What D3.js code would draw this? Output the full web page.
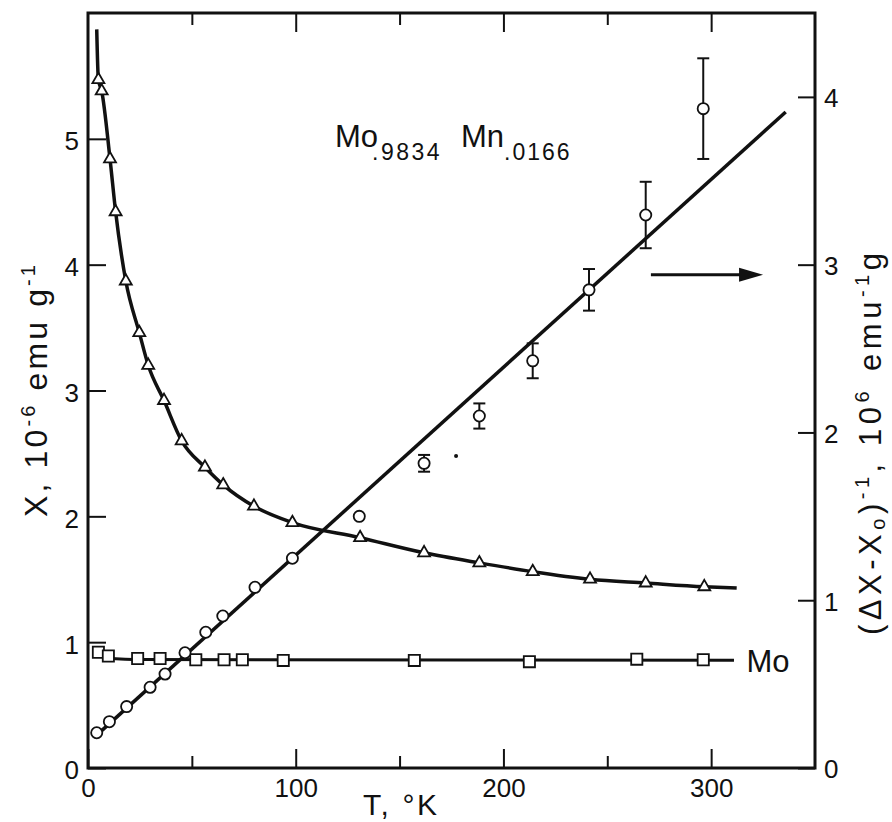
<!DOCTYPE html>
<html>
<head>
<meta charset="utf-8">
<script src="https://cdn.jsdelivr.net/npm/d3@7"></script>
<style>
  body { margin: 0; background: #fff; }
  svg { display: block; font-family: "Liberation Sans", Arial, sans-serif; }
  .axis text { font-size: 26px; fill: #111; font-family: "Liberation Sans", Arial, sans-serif; }
  .axis line { stroke: #111; stroke-width: 2; }
</style>
</head>
<body>
<div id="chart"></div>
<script>
// Mo.9834 Mn.0166 : susceptibility (triangles, left axis)
const triT   = [5.0, 6.6, 10.6, 13.3, 18.2, 24.7, 29.0, 36.6, 45.1, 56.3, 65.1, 79.9, 98.4, 131.0, 161.8, 188.4, 214.1, 241.7, 268.5, 296.7];
const triChi = [5.47, 5.38, 4.84, 4.42, 3.87, 3.46, 3.20, 2.92, 2.60, 2.39, 2.25, 2.08, 1.95, 1.83, 1.71, 1.63, 1.56, 1.50, 1.47, 1.44];

// fitted curve through the triangles
const fitT   = [4.2, 5.0, 6.6, 10.6, 13.3, 18.2, 24.7, 29.0, 36.6, 45.1, 56.3, 65.1, 79.9, 98.4, 131.0, 161.8, 188.4, 214.1, 241.7, 268.5, 296.7, 312.3];
const fitChi = [5.87, 5.47, 5.38, 4.84, 4.42, 3.87, 3.46, 3.20, 2.92, 2.60, 2.39, 2.25, 2.08, 1.95, 1.83, 1.71, 1.63, 1.56, 1.50, 1.47, 1.44, 1.43];

// inverse excess susceptibility (circles, right axis) with error bars
const invT   = [4.2, 10.3, 18.6, 29.9, 37.1, 46.7, 56.7, 64.9, 80.4, 98.4, 130.6, 161.8, 188.4, 214.1, 241.2, 268.5, 296.2];
const invV   = [0.21, 0.276, 0.366, 0.481, 0.56, 0.687, 0.809, 0.906, 1.077, 1.25, 1.50, 1.816, 2.098, 2.427, 2.85, 3.296, 3.93];
const invErr = [0, 0, 0, 0, 0, 0, 0, 0, 0, 0, 0, 0.05, 0.075, 0.104, 0.124, 0.198, 0.30];

// straight line fit on the inverse data
const lineT = [3.4, 335.9];
const lineV = [0.187, 3.91];

// pure Mo (squares, left axis)
const moT   = [5.0, 9.8, 23.9, 34.7, 51.9, 65.5, 74.3, 94.0, 157.1, 212.5, 264.2, 296.2];
const moChi = [0.92, 0.89, 0.87, 0.87, 0.86, 0.86, 0.86, 0.855, 0.855, 0.845, 0.865, 0.86];
const moLineT   = [8, 25, 311];
const moLineChi = [0.875, 0.862, 0.857];

// small speck on the original print
const speckT = [177.2];
const speckV = [1.86];

// arrow pointing to the right-hand axis
const arrowT = [271, 325];
const arrowV = 2.94;

const xMajor = [0, 100, 200, 300];
const xMinor = [50, 150, 250];
const leftTicks = [0, 1, 2, 3, 4, 5];
const rightTicks = [0, 1, 2, 3, 4];

const W = 892, H = 822;
const plot = { left: 88, right: 815, top: 13, bottom: 768 };

const svg = d3.select("#chart").append("svg")
    .attr("width", W)
    .attr("height", H);

const x = d3.scaleLinear().domain([0, 350]).range([plot.left, plot.right]);
const yL = d3.scaleLinear().domain([0, 6]).range([plot.bottom, plot.top]);
const yR = d3.scaleLinear().domain([0, 4.5]).range([plot.bottom, plot.top]);

// axes, ticks pointing into the plot
function tickAxis(axis, shift, cls) {
    const g = svg.append("g")
        .attr("class", "axis " + cls)
        .attr("transform", shift)
        .call(axis);
    g.select("path.domain").remove();
    return g;
}

tickAxis(d3.axisBottom(x).tickValues(xMajor).tickSize(-19).tickPadding(11).tickFormat(d3.format("d")),
    `translate(0,${plot.bottom})`, "x-major");
tickAxis(d3.axisBottom(x).tickValues(xMinor).tickSize(-12).tickFormat(""),
    `translate(0,${plot.bottom})`, "x-minor");
tickAxis(d3.axisTop(x).tickValues(xMajor.slice(1)).tickSize(-19).tickFormat(""),
    `translate(0,${plot.top})`, "x-top");
tickAxis(d3.axisTop(x).tickValues(xMinor).tickSize(-12).tickFormat(""),
    `translate(0,${plot.top})`, "x-top-minor");
tickAxis(d3.axisLeft(yL).tickValues(leftTicks).tickSize(-18).tickPadding(9).tickFormat(d3.format("d")),
    `translate(${plot.left},0)`, "y-left")
    .selectAll("text").attr("dy", "0.42em");
tickAxis(d3.axisRight(yR).tickValues(rightTicks).tickSize(-17).tickPadding(9).tickFormat(d3.format("d")),
    `translate(${plot.right},0)`, "y-right")
    .selectAll("text").attr("dy", "0.38em");

// frame
svg.append("rect")
    .attr("x", plot.left)
    .attr("y", plot.top)
    .attr("width", plot.right - plot.left)
    .attr("height", plot.bottom - plot.top)
    .style("fill", "none")
    .style("stroke", "#111")
    .style("stroke-width", 3);

// curves
const fitLine = d3.line()
    .x(i => x(fitT[i]))
    .y(i => yL(fitChi[i]))
    .curve(d3.curveMonotoneX);

svg.append("path")
    .attr("d", fitLine(d3.range(fitT.length)))
    .style("fill", "none")
    .style("stroke", "#111")
    .style("stroke-width", 3.5);

svg.append("path")
    .attr("d", d3.line().x(i => x(lineT[i])).y(i => yR(lineV[i]))(d3.range(lineT.length)))
    .style("fill", "none")
    .style("stroke", "#111")
    .style("stroke-width", 3.5);

svg.append("path")
    .attr("d", d3.line().x(i => x(moLineT[i])).y(i => yL(moLineChi[i])).curve(d3.curveMonotoneX)(d3.range(moLineT.length)))
    .style("fill", "none")
    .style("stroke", "#111")
    .style("stroke-width", 3);

// error bars
const errIdx = d3.range(invT.length).filter(i => invErr[i] > 0);
const capW = 6;
const bars = svg.append("g")
    .style("stroke", "#111")
    .style("stroke-width", 2);

bars.selectAll()
    .data(errIdx)
    .enter()
    .append("line")
    .attr("x1", i => x(invT[i]))
    .attr("x2", i => x(invT[i]))
    .attr("y1", i => yR(invV[i] - invErr[i]))
    .attr("y2", i => yR(invV[i] + invErr[i]));

[-1, 1].forEach(s => {
    bars.selectAll()
        .data(errIdx)
        .enter()
        .append("line")
        .attr("x1", i => x(invT[i]) - capW)
        .attr("x2", i => x(invT[i]) + capW)
        .attr("y1", i => yR(invV[i] + s * invErr[i]))
        .attr("y2", i => yR(invV[i] + s * invErr[i]));
});

// markers
const tri = d3.symbol(d3.symbolTriangle, 62);
svg.selectAll()
    .data(d3.range(triT.length))
    .enter()
    .append("path")
    .attr("d", tri)
    .attr("transform", i => `translate(${x(triT[i])},${yL(triChi[i])})`)
    .style("fill", "#fff")
    .style("stroke", "#111")
    .style("stroke-width", 1.8);

const sq = d3.symbol(d3.symbolSquare, 125);
svg.selectAll()
    .data(d3.range(moT.length))
    .enter()
    .append("path")
    .attr("d", sq)
    .attr("transform", i => `translate(${x(moT[i])},${yL(moChi[i])})`)
    .style("fill", "#fff")
    .style("stroke", "#111")
    .style("stroke-width", 1.8);

svg.selectAll()
    .data(d3.range(invT.length))
    .enter()
    .append("circle")
    .attr("cx", i => x(invT[i]))
    .attr("cy", i => yR(invV[i]))
    .attr("r", 5.6)
    .style("fill", "#fff")
    .style("stroke", "#111")
    .style("stroke-width", 1.8);

svg.selectAll()
    .data(d3.range(speckT.length))
    .enter()
    .append("circle")
    .attr("cx", i => x(speckT[i]))
    .attr("cy", i => yR(speckV[i]))
    .attr("r", 2)
    .style("fill", "#111");

// arrow
const ay = yR(arrowV);
svg.append("line")
    .attr("x1", x(arrowT[0]))
    .attr("x2", x(arrowT[1]) - 20)
    .attr("y1", ay)
    .attr("y2", ay)
    .style("stroke", "#111")
    .style("stroke-width", 3);
svg.append("path")
    .attr("d", `M${x(arrowT[1])},${ay} L${x(arrowT[1]) - 24},${ay - 7} L${x(arrowT[1]) - 24},${ay + 7} Z`)
    .style("fill", "#111");

// texts
const title = svg.append("text")
    .attr("y", 147)
    .style("font-size", "31px")
    .style("fill", "#111");
title.append("tspan").attr("x", 335).text("Mo");
title.append("tspan").attr("x", 372).attr("dy", 13).style("font-size", "23px").attr("letter-spacing", "2.5").text(".9834");
title.append("tspan").attr("x", 461).attr("dy", -13).text("Mn");
title.append("tspan").attr("x", 504).attr("dy", 13).style("font-size", "23px").attr("letter-spacing", "2").text(".0166");

svg.append("text")
    .attr("x", x(317))
    .attr("y", 672)
    .style("font-size", "31px")
    .style("fill", "#111")
    .text("Mo");

svg.append("text")
    .attr("x", 363)
    .attr("y", 815)
    .attr("textLength", 74)
    .style("font-size", "30px")
    .style("fill", "#111")
    .text("T, °K");

const yLab = svg.append("text")
    .attr("transform", "translate(47,391) rotate(-90)")
    .attr("text-anchor", "middle")
    .attr("textLength", 252)
    .attr("lengthAdjust", "spacing")
    .style("font-size", "32px")
    .style("fill", "#111");
yLab.append("tspan").text("X, 10");
yLab.append("tspan").attr("dy", -12).style("font-size", "20px").text("-6");
yLab.append("tspan").attr("dy", 12).text(" emu g");
yLab.append("tspan").attr("dy", -12).style("font-size", "20px").text("-1");

const rLab = svg.append("text")
    .attr("transform", "translate(881,444) rotate(-90)")
    .attr("text-anchor", "middle")
    .attr("textLength", 382)
    .attr("lengthAdjust", "spacing")
    .style("font-size", "31px")
    .style("fill", "#111");
rLab.append("tspan").text("(ΔX-X");
rLab.append("tspan").attr("dy", 4).style("font-size", "20px").text("o");
rLab.append("tspan").attr("dy", -4).text(")");
rLab.append("tspan").attr("dy", -12).style("font-size", "20px").text("-1");
rLab.append("tspan").attr("dy", 12).text(", 10");
rLab.append("tspan").attr("dy", -12).style("font-size", "20px").text("6");
rLab.append("tspan").attr("dy", 12).attr("dx", 16).text("emu");
rLab.append("tspan").attr("dy", -12).style("font-size", "20px").text("-1");
rLab.append("tspan").attr("dy", 12).text("g");
</script>
</body>
</html>
